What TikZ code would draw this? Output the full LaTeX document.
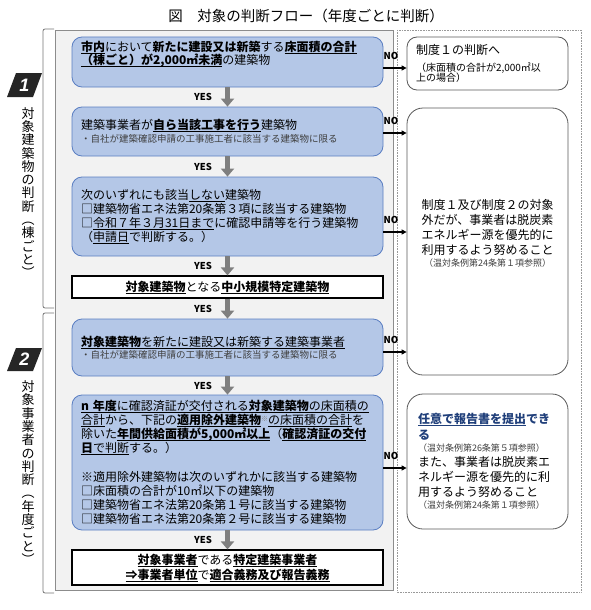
\documentclass[tikz,border=0pt]{standalone}
\usepackage{fontspec}
\newfontfamily\jp{Noto Sans CJK JP}
\newfontfamily\lsans{Liberation Sans}
\usetikzlibrary{arrows.meta}
\definecolor{boxblue}{HTML}{B4C7E7}
\definecolor{boxedge}{HTML}{5A7EC2}
\definecolor{arrgray}{HTML}{7F7F7F}
\definecolor{panelgray}{HTML}{F2F2F2}
\definecolor{navyblue}{HTML}{203F7A}
\definecolor{subgray}{HTML}{404040}
\newcommand\myul[1]{\leavevmode\setbox0\hbox{#1}\rlap{\rule[-1.9pt]{\wd0}{0.5pt}}\box0}
\newcommand\mybu[1]{\myul{\bfseries #1}}
\newcommand\smtxt{\fontsize{9.5}{11}\selectfont\color{subgray}}
\newcommand\smref{\fontsize{9}{9}\selectfont\color{subgray}}
\newcommand\supnote{\raisebox{3.5pt}{\fontsize{7}{7}\selectfont\color{gray}※}}
\tikzset{
  bluebox/.style={draw=boxedge, line width=0.8pt, fill=boxblue, rounded corners=10pt,
    text width=293pt, inner xsep=9pt, inner ysep=0pt, align=left,
    font=\jp\fontsize{12}{14}\selectfont},
  resbox/.style={draw=black, line width=1.2pt, fill=white, minimum width=311pt,
    inner sep=0pt, align=center, font=\jp\fontsize{12}{15}\selectfont},
  sidebox/.style={draw=black!65, line width=0.8pt, fill=white, rounded corners=10pt,
    minimum width=161pt, text width=143pt, inner xsep=9pt, inner ysep=0pt, align=left,
    font=\jp\fontsize{12}{15}\selectfont},
  yesarrow/.style={draw=arrgray, line width=5pt, -{Triangle[width=13pt,length=8pt]}},
  noarrow/.style={draw=black, line width=1.2pt, -{Triangle[width=5pt,length=5pt]}},
  lab/.style={font=\jp\bfseries\fontsize{9.5}{10}\selectfont, inner sep=0pt},
  vtext/.style={align=center, font=\jp\fontsize{13}{13.3}\selectfont, inner sep=0pt},
  bracket/.style={draw=black!55, line width=0.8pt, rounded corners=2pt},
  badge/.style={font=\lsans\bfseries\itshape\fontsize{18}{18}\selectfont, text=white, inner sep=0pt}
}
\begin{document}
\begin{tikzpicture}[x=1pt,y=-1pt]
\useasboundingbox (0,0) rectangle (591,610);
% title
\node[font=\jp\fontsize{14.5}{14.5}\selectfont] (title) at (306,16) {図　対象の判断フロー（年度ごとに判断）};
% panels
\filldraw[fill=panelgray, draw=black!45, line width=0.6pt] (55,30) rectangle (393,590);
\draw[black!40, densely dotted, line width=0.6pt] (397,30) rectangle (581,592);
% brackets
\draw[bracket] (54,29) -| (43,308) -- (54,308);
\draw[bracket] (54,313) -| (43,593) -- (54,593);
% badges
\fill[black!85] (7,97) -- (16,73) -- (42,73) -- (33,97) -- cycle;
\node[badge] (bd1) at (24.5,85.5) {1};
\fill[black!85] (7,371) -- (16,348) -- (42,348) -- (33,371) -- cycle;
\node[badge] (bd2) at (24.5,359.5) {2};
% vertical texts
\node[vtext] (v1) at (28,192.5) {対\\象\\建\\築\\物\\の\\判\\断\\︵\\棟\\ご\\と\\︶};
\node[vtext] (v2) at (28,472.5) {対\\象\\事\\業\\者\\の\\判\\断\\︵\\年\\度\\ご\\と\\︶};
% flow boxes
\node[bluebox, minimum height=50pt] (b1) at (227.5,62) {\mybu{市内}において{\bfseries 新たに建設又は新築}する\mybu{床面積の合計}\\[-1pt]%
\mybu{（棟ごと）が2,000㎡未満}の建築物\\[4pt]\mbox{}};
\node[bluebox, minimum height=49pt] (b2) at (227.5,131.5) {建築事業者が\mybu{自ら当該工事を行う}建築物\\[-1pt]%
{\smtxt ・自社が建築確認申請の工事施工者に該当する建築物に限る}};
\node[bluebox, minimum height=79pt] (b3) at (227.5,216.5) {次のいずれにも該当\myul{しない}建築物\\%
□建築物省エネ法第20条第３項に該当する建築物\\%
□\myul{令和７年３月31日まで}に確認申請等を行う建築物\\%
（\myul{申請日}で判断する。）};
\node[resbox, minimum height=22pt] (r1) at (227.5,287) {\mybu{対象建築物}となる\mybu{中小規模特定建築物}};
\node[bluebox, minimum height=57pt] (b4) at (227.5,347.5) {\mybu{対象建築物}\myul{を新たに建設又は新築する建築事業者}\\[-2pt]%
{\smtxt ・自社が建築確認申請の工事施工者に該当する建築物に限る}};
\node[bluebox, minimum height=135pt] (b5) at (227.5,462.5) {\mybu{n 年度}\myul{に確認済証が交付される}\mybu{対象建築物}\myul{の床面積の}\\%
\myul{合計}から、下記の\mybu{適用除外建築物}\supnote\myul{の床面積の合計}を\\%
除いた\mybu{年間供給面積が5,000㎡以上}（\mybu{確認済証の交付}\\%
\mybu{日}\myul{で判断}する。）\\[15pt]%
※適用除外建築物は次のいずれかに該当する建築物\\%
□床面積の合計が10㎡以下の建築物\\%
□建築物省エネ法第20条第１号に該当する建築物\\%
□建築物省エネ法第20条第２号に該当する建築物};
\node[resbox, minimum height=35pt] (r2) at (227.5,567.5) {\mybu{対象事業者}である\mybu{特定建築事業者}\\%
\mybu{⇒事業者単位}で\mybu{適合義務及び報告義務}};
% YES arrows
\draw[yesarrow] (b1) -- (b2);
\draw[yesarrow] (b2) -- (b3);
\draw[yesarrow] (b3) -- (r1);
\draw[yesarrow] (r1) -- (b4);
\draw[yesarrow] (b4) -- (b5);
\draw[yesarrow] (b5) -- (r2);
\node[lab] (y1) at (203,97) {YES};
\node[lab] (y2) at (203,166.5) {YES};
\node[lab] (y3) at (203,266) {YES};
\node[lab] (y4) at (203,308.5) {YES};
\node[lab] (y5) at (203,385.5) {YES};
\node[lab] (y6) at (203,540) {YES};
% side boxes
\node[sidebox, minimum height=53pt, font=\jp\fontsize{12}{12}\selectfont] (R1) at (487.5,63.5) {制度１の判断へ\\[5pt]%
{\fontsize{10}{10}\selectfont （床面積の合計が2,000㎡以}\\[-2pt]%
{\fontsize{10}{10}\selectfont 上の場合）}};
\node[sidebox, minimum height=267pt, rounded corners=16pt] (R2) at (487.5,241.5) {};
\node[align=center, font=\jp\fontsize{12}{15}\selectfont, inner sep=0pt] (R2t) at (487.5,233) {制度１及び制度２の対象\\%
外だが、事業者は脱炭素\\%
エネルギー源を優先的に\\%
利用するよう努めること\\[-3pt]%
{\smref （温対条例第24条第１項参照）}};
\node[sidebox, minimum height=135pt, rounded corners=16pt, inner xsep=11pt, text width=139pt] (R3) at (487.5,461.5) {{\color{navyblue}\bfseries\myul{任意で報告書を提出}でき}\\[1pt]%
{\color{navyblue}\bfseries る}\\[-3pt]%
{\smref （温対条例第26条第５項参照）}\\%
また、事業者は脱炭素エ\\%
ネルギー源を優先的に利\\%
用するよう努めること\\[-3pt]%
{\smref （温対条例第24条第１項参照）}};
% NO arrows
\draw[noarrow] (b1.east |- 0,68) -- (R1.west |- 0,68);
\draw[noarrow] (b2.east |- 0,133) -- (R2.west |- 0,133);
\draw[noarrow] (b3.east |- 0,232) -- (R2.west |- 0,232);
\draw[noarrow] (b4.east |- 0,352) -- (R2.west |- 0,352);
\draw[noarrow] (b5.east |- 0,468) -- (R3.west |- 0,468);
\node[lab] (n1) at (391,56) {NO};
\node[lab] (n2) at (391,121) {NO};
\node[lab] (n3) at (391,220) {NO};
\node[lab] (n4) at (391,340) {NO};
\node[lab] (n5) at (391,456) {NO};
\end{tikzpicture}
\end{document}
